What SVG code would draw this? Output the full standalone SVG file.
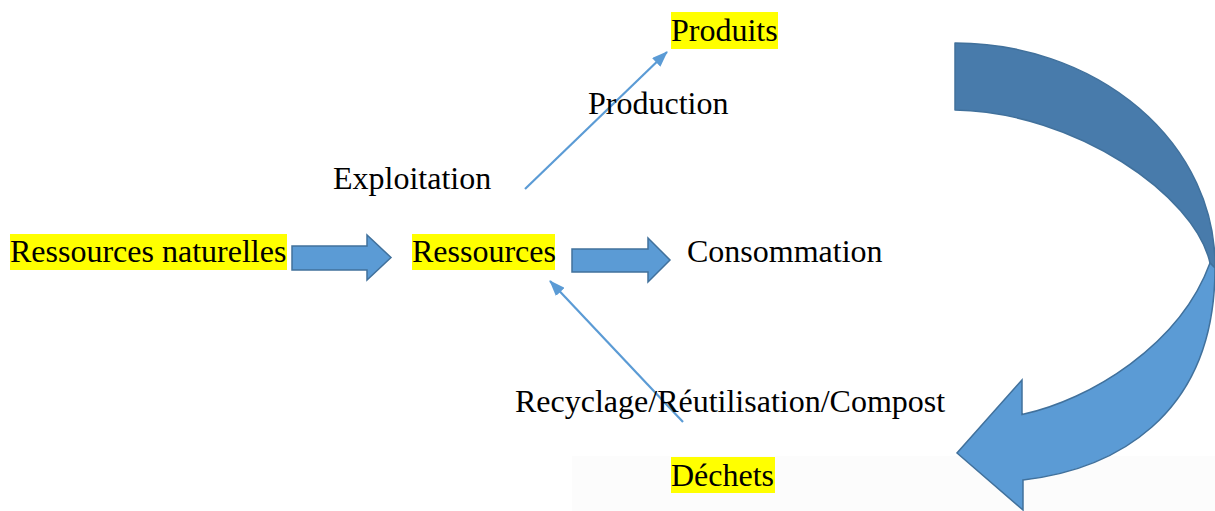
<svg xmlns="http://www.w3.org/2000/svg" width="1215" height="511" viewBox="0 0 1215 511">
<defs>
<style>
.t{font-family:"Liberation Serif","Times New Roman",serif;font-size:32px;fill:#000}
.hl{fill:#ffff00}
.blk{fill:#5b9bd5;stroke:#41719c;stroke-width:1.5;stroke-linejoin:miter}
.thin{stroke:#5b9bd5;stroke-width:2.2;fill:none}
</style>
<marker id="ah" viewBox="0 0 16 12" refX="15" refY="6" markerWidth="16" markerHeight="12" markerUnits="userSpaceOnUse" orient="auto">
<path d="M0,0 L16,6 L0,12 Z" fill="#5b9bd5"/>
</marker>
</defs>
<rect x="0" y="0" width="1215" height="511" fill="#ffffff"/>
<rect x="572" y="456" width="643" height="55" fill="#fcfcfc"/>

<g id="connectors">
<path id="arrow-nat-res" class="blk" d="M292,246 H367 V235 L391,257.5 L367,280 V270 H292 Z"/>
<path id="arrow-res-cons" class="blk" d="M572,249 H648 V238 L670,260 L648,282 V272 H572 Z"/>
<line id="arrow-production" class="thin" x1="525" y1="189" x2="667" y2="52" marker-end="url(#ah)"/>
<line id="arrow-recyclage" class="thin" x1="683" y1="422" x2="550" y2="281" marker-end="url(#ah)"/>
<g id="arrow-curved">
<path d="M955,43 A260,222 0 0 1 1215,265 L1215,268 L1210,263 C1195,195 1075,112 955,110 Z" fill="#487bab" stroke="#41719c" stroke-width="1.5" stroke-linejoin="round"/>
<path d="M1215,268 C1215,420 1110,470 1023,480 L1023,510 L957,453 L1022,380 L1022,414.5 C1090,400 1180,345 1210,263 Z" fill="#5b9bd5" stroke="#41719c" stroke-width="1.5"/>
</g>
</g>

<g id="node-ressources-naturelles">
<rect class="hl" x="10" y="234" width="277" height="36"/>
<text class="t" x="10" y="262">Ressources naturelles</text>
</g>
<g id="node-ressources">
<rect class="hl" x="412" y="234" width="143" height="36"/>
<text class="t" x="412" y="262">Ressources</text>
</g>
<g id="node-consommation">
<text class="t" x="687" y="262">Consommation</text>
</g>
<g id="node-exploitation">
<text class="t" x="333" y="189">Exploitation</text>
</g>
<g id="node-production">
<text class="t" x="588" y="114">Production</text>
</g>
<g id="node-produits">
<rect class="hl" x="671" y="12" width="107" height="37"/>
<text class="t" x="671" y="41">Produits</text>
</g>
<g id="node-recyclage">
<text class="t" x="515" y="412">Recyclage/Réutilisation/Compost</text>
</g>
<g id="node-dechets">
<rect class="hl" x="671" y="457" width="104" height="36"/>
<text class="t" x="671" y="486">Déchets</text>
</g>
</svg>
